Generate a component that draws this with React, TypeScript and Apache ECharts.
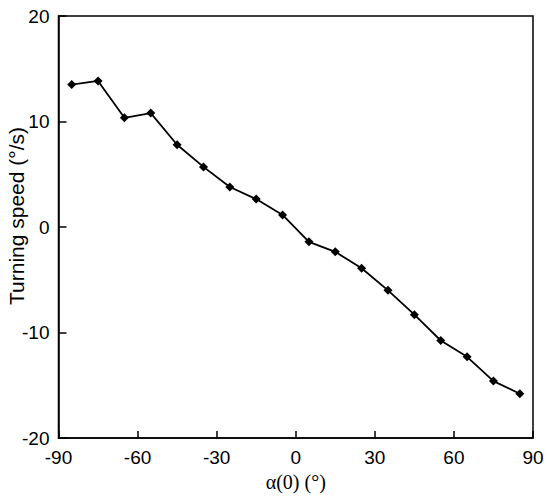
import React, { useEffect, useRef } from "react";
import * as echarts from "echarts";

const alphaValues = [-85, -75, -65, -55, -45, -35, -25, -15, -5, 5, 15, 25, 35, 45, 55, 65, 75, 85];
const turningSpeed = [13.5, 13.85, 10.35, 10.8, 7.8, 5.7, 3.8, 2.65, 1.15, -1.4, -2.35, -3.9, -6.0, -8.3, -10.75, -12.3, -14.6, -15.8];
const xTicks = { min: -90, max: 90, interval: 30 };
const yTicks = { min: -20, max: 20, interval: 10 };
const xTitle = "α(0) (°)";
const yTitle = "Turning speed (°/s)";

export default function App() {
  const ref = useRef<HTMLDivElement>(null);
  useEffect(() => {
    if (!ref.current) return;
    const chart = echarts.init(ref.current, null, { renderer: "svg" });
    const sans = "'Liberation Sans', Arial, sans-serif";
    chart.setOption({
      animation: false,
      backgroundColor: "#fff",
      grid: {
        left: 58.5,
        top: 16,
        right: 17,
        bottom: 53,
        show: true,
        borderColor: "#000",
        borderWidth: 1.5,
        backgroundColor: "transparent",
      },
      xAxis: {
        type: "value",
        min: xTicks.min,
        max: xTicks.max,
        interval: xTicks.interval,
        name: xTitle,
        nameLocation: "middle",
        nameGap: 29,
        nameTextStyle: { fontFamily: "'Liberation Serif', 'Times New Roman', serif", fontSize: 20, color: "#000" },
        axisLine: { show: true, onZero: false, lineStyle: { color: "#000", width: 1.5 } },
        axisTick: { show: true, inside: true, length: 7, lineStyle: { color: "#000", width: 1.5 } },
        axisLabel: { color: "#000", fontSize: 19, fontFamily: sans, margin: 10 },
        splitLine: { show: false },
      },
      yAxis: {
        type: "value",
        min: yTicks.min,
        max: yTicks.max,
        interval: yTicks.interval,
        axisLine: { show: true, onZero: false, lineStyle: { color: "#000", width: 1.5 } },
        axisTick: { show: true, inside: true, length: 8, lineStyle: { color: "#000", width: 1.5 } },
        axisLabel: { color: "#000", fontSize: 19, fontFamily: sans, margin: 9 },
        splitLine: { show: false },
      },
      graphic: [
        {
          type: "text",
          x: 16,
          y: 216,
          rotation: Math.PI / 2,
          style: {
            text: yTitle,
            fontSize: 21,
            fontFamily: sans,
            fill: "#000",
            align: "center",
            verticalAlign: "middle",
          },
        },
      ],
      series: [
        {
          type: "line",
          data: alphaValues.map((a, i) => [a, turningSpeed[i]]),
          symbol: "diamond",
          symbolSize: 9,
          showSymbol: true,
          lineStyle: { color: "#000", width: 1.8 },
          itemStyle: { color: "#000" },
        },
      ],
    });
    return () => chart.dispose();
  }, []);
  return <div ref={ref} style={{ width: 550, height: 497, position: "absolute", left: 0, top: 0 }} />;
}
